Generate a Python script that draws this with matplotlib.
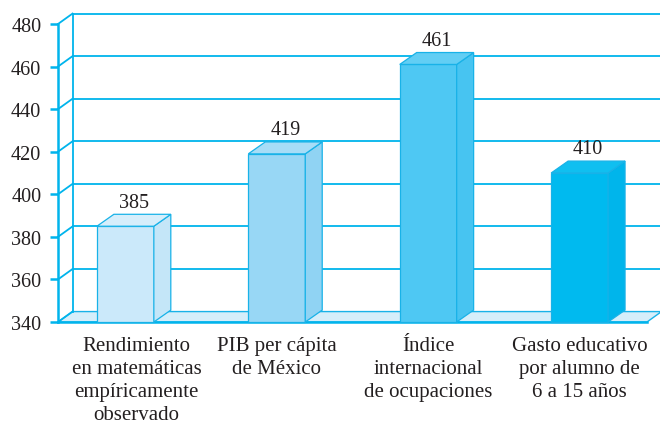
import matplotlib.pyplot as plt
from matplotlib.patches import Polygon

categories = ['Rendimiento\nen matemáticas\nempíricamente\nobservado',
              'PIB per cápita\nde México',
              'Índice\ninternacional\nde ocupaciones',
              'Gasto educativo\npor alumno de\n6 a 15 años']
values = [385, 419, 461, 410]
yticks = [340, 360, 380, 400, 420, 440, 460, 480]

front_colors = ['#cbe9fa', '#98d7f5', '#4ec8f3', '#00baef']
side_colors = ['#c4e6f8', '#90d3f3', '#47c4f1', '#00b5eb']
top_colors = ['#d6eefb', '#a7ddf7', '#62cef4', '#10bff0']
line_color = '#18b2e8'
grid_color = '#00b4ec'

plt.rcParams['font.family'] = ['Liberation Serif', 'DejaVu Serif']

fig = plt.figure(figsize=(6.6, 4.27), dpi=100)
ax = fig.add_axes([58 / 660, 104 / 427, 589 / 660, 298 / 427])
xl, xr = -0.445, 3.445
ymin, ymax = 340, 480
ax.set_xlim(xl, xr)
ax.set_ylim(ymin, ymax)

# depth offsets of the wall and of the bars (data units)
wdx, wdy = 0.096, 4.9
bdx, bdy = 0.112, 5.6
hw = 0.188

# floor
ax.add_patch(Polygon([(xl, ymin), (xr, ymin), (xr + wdx, ymin + wdy), (xl + wdx, ymin + wdy)],
                     closed=True, facecolor='#d5eefa', edgecolor=line_color, lw=1.0,
                     clip_on=False, zorder=1))
ax.plot([xl, xr], [ymin, ymin], color=grid_color, lw=1.8, clip_on=False, zorder=2)

# back wall grid and left wall diagonals
for t in yticks[1:]:
    ax.plot([xl + wdx, 3.56], [t + wdy, t + wdy], color=grid_color, lw=1.3,
            clip_on=False, zorder=1)
for t in yticks:
    ax.plot([xl, xl + wdx], [t, t + wdy], color=grid_color, lw=1.3, clip_on=False, zorder=1)
ax.plot([xl + wdx, xl + wdx], [ymin + wdy, ymax + wdy], color=grid_color, lw=1.3,
        clip_on=False, zorder=1)

# bars
for i, v in enumerate(values):
    x0, x1 = i - hw, i + hw
    ax.add_patch(Polygon([(x0, ymin), (x1, ymin), (x1, v), (x0, v)], closed=True,
                         facecolor=front_colors[i], edgecolor=line_color, lw=0.9,
                         clip_on=False, zorder=3))
    ax.add_patch(Polygon([(x1, ymin), (x1 + bdx, ymin + bdy), (x1 + bdx, v + bdy), (x1, v)],
                         closed=True, facecolor=side_colors[i], edgecolor=line_color,
                         lw=0.9, clip_on=False, zorder=3))
    ax.add_patch(Polygon([(x0, v), (x1, v), (x1 + bdx, v + bdy), (x0 + bdx, v + bdy)],
                         closed=True, facecolor=top_colors[i], edgecolor=line_color,
                         lw=0.9, clip_on=False, zorder=3))
    ax.annotate(str(v), xy=(i + bdx / 2, v + bdy), xytext=(0, 2), textcoords='offset points',
                ha='center', va='bottom', fontsize=14.5, color='#231f20', zorder=4)

# category labels
label_shift = [0.075, 0, 0, 0]
for i, lab in enumerate(categories):
    ax.annotate(lab, xy=(i + label_shift[i], 0), xycoords=('data', 'axes fraction'),
                xytext=(0, -10), textcoords='offset points', ha='center', va='top',
                multialignment='center', fontsize=15, linespacing=1.28, color='#231f20')

for s in ['top', 'right', 'bottom']:
    ax.spines[s].set_visible(False)
ax.spines['left'].set_color(grid_color)
ax.spines['left'].set_linewidth(1.8)
ax.set_xticks([])
ax.set_yticks(yticks)
ax.tick_params(axis='y', length=6, width=1.8, color=grid_color, pad=6,
               labelsize=14.5, labelcolor='#231f20')

fig.savefig('out.png', dpi=100)
